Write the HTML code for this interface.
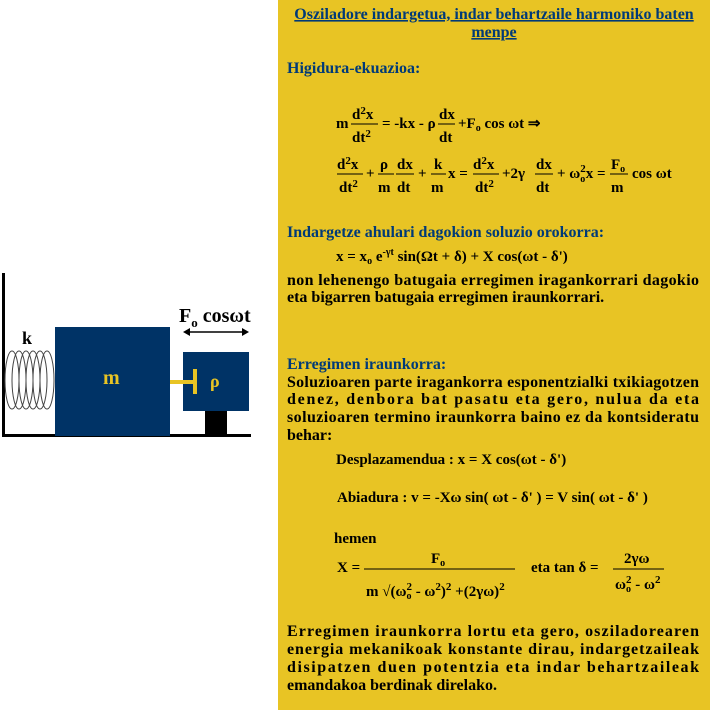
<!DOCTYPE html>
<html><head><meta charset="utf-8"><style>
body{margin:0;background:#fff;width:710px;height:710px;overflow:hidden}
svg{font-family:"Liberation Serif",serif;font-weight:bold}
</style></head><body>
<svg width="710" height="710" viewBox="0 0 710 710" xmlns="http://www.w3.org/2000/svg">
<rect x="278" y="0" width="432" height="710" fill="#E8C424"/>
<!-- diagram -->
<rect x="2" y="273" width="3" height="164" fill="#000"/>
<rect x="2" y="434" width="249" height="3" fill="#000"/>
<g fill="none" stroke="#444" stroke-width="1">
<ellipse cx="12" cy="380" rx="7" ry="29"/><ellipse cx="19" cy="380" rx="7" ry="29"/><ellipse cx="26" cy="380" rx="7" ry="29"/><ellipse cx="33" cy="380" rx="7" ry="29"/><ellipse cx="40" cy="380" rx="7" ry="29"/><ellipse cx="47" cy="380" rx="7" ry="29"/>
</g>
<rect x="55" y="327" width="115" height="109" fill="#003366"/>
<text x="103" y="384" fill="#E8C424" font-size="20">m</text>
<rect x="183" y="352" width="66" height="59" fill="#003366"/>
<rect x="205" y="411" width="22" height="24" fill="#000"/>
<rect x="170" y="380" width="26" height="4" fill="#E8C424"/>
<rect x="193" y="369" width="4" height="25" fill="#E8C424"/>
<text x="210" y="387" fill="#E8C424" font-size="18">ρ</text>
<text x="22" y="344" font-size="18">k</text>
<text x="179" y="322" font-size="20">F<tspan font-size="13" dy="5">o</tspan><tspan dy="-5"> cosωt</tspan></text>
<line x1="186" y1="332" x2="246" y2="332" stroke="#000" stroke-width="1.5"/>
<path d="M183 332l7-4v8z M249 332l-7-4v8z" fill="#000"/>
<!-- text -->
<g font-size="16">
<text x="494" y="19" text-anchor="middle" fill="#003A78" text-decoration="underline">Osziladore indargetua, indar behartzaile harmoniko baten</text>
<text x="494" y="37" text-anchor="middle" fill="#003A78" text-decoration="underline">menpe</text>
<text x="287" y="73" fill="#003A78">Higidura-ekuazioa:</text>
</g>
<g font-size="15" fill="#000">
<text x="336" y="128">m</text>
<text x="352" y="119">d<tspan font-size="11" dy="-5">2</tspan><tspan dy="5">x</tspan></text>
<line x1="351" y1="124" x2="378" y2="124" stroke="#000"/>
<text x="352" y="142">dt<tspan font-size="11" dy="-5">2</tspan></text>
<text x="382" y="128">= -kx - ρ</text>
<text x="439" y="119">dx</text><line x1="438" y1="124" x2="455" y2="124" stroke="#000"/><text x="439" y="142">dt</text>
<text x="458" y="128">+F<tspan font-size="10" dy="3">o</tspan><tspan dy="-3"> cos ωt  ⇒</tspan></text>

<text x="337" y="169">d<tspan font-size="11" dy="-5">2</tspan><tspan dy="5">x</tspan></text><line x1="337" y1="174" x2="363" y2="174" stroke="#000"/><text x="339" y="192">dt<tspan font-size="11" dy="-5">2</tspan></text>
<text x="366" y="178">+</text>
<text x="380" y="169">ρ</text><line x1="378" y1="174" x2="394" y2="174" stroke="#000"/><text x="378" y="192">m</text>
<text x="397" y="169">dx</text><line x1="396" y1="174" x2="414" y2="174" stroke="#000"/><text x="397" y="192">dt</text>
<text x="418" y="178">+</text>
<text x="434" y="169">k</text><line x1="431" y1="174" x2="446" y2="174" stroke="#000"/><text x="431" y="192">m</text>
<text x="448" y="178">x =</text>
<text x="473" y="169">d<tspan font-size="11" dy="-5">2</tspan><tspan dy="5">x</tspan></text><line x1="473" y1="174" x2="499" y2="174" stroke="#000"/><text x="475" y="192">dt<tspan font-size="11" dy="-5">2</tspan></text>
<text x="502" y="178">+2γ</text>
<text x="536" y="169">dx</text><line x1="535" y1="174" x2="553" y2="174" stroke="#000"/><text x="536" y="192">dt</text>
<text x="557" y="178">+ ω<tspan font-size="10" dy="4">o</tspan><tspan font-size="11" dx="-5" dy="-10">2</tspan><tspan dy="6">x =</tspan></text>
<text x="611" y="169">F<tspan font-size="10" dy="3">o</tspan></text><line x1="610" y1="174" x2="628" y2="174" stroke="#000"/><text x="611" y="192">m</text>
<text x="632" y="178">cos ωt</text>
</g>
<text x="287" y="237" font-size="16" fill="#003A78">Indargetze ahulari dagokion soluzio orokorra:</text>
<g font-size="15">
<text x="336" y="261">x = x<tspan font-size="10" dy="3">o</tspan><tspan dy="-3"> e</tspan><tspan font-size="10" dy="-6">-γt</tspan><tspan dy="6"> sin(Ωt + δ) + X cos(ωt - δ')</tspan></text>
<text x="336" y="464">Desplazamendua :  x = X cos(ωt - δ')</text>
<text x="337" y="502">Abiadura :  v = -Xω sin( ωt - δ' ) = V sin( ωt - δ' )</text>
<text x="334" y="543">hemen</text>
<text x="337" y="572">X =</text>
<text x="431" y="563">F<tspan font-size="10" dy="3">o</tspan></text>
<line x1="364" y1="569" x2="515" y2="569" stroke="#000"/>
<text x="366" y="596">m √(ω<tspan font-size="10" dy="3">o</tspan><tspan font-size="11" dx="-5" dy="-9">2</tspan><tspan dy="6"> - ω</tspan><tspan font-size="11" dy="-6">2</tspan><tspan dy="6">)</tspan><tspan font-size="11" dy="-6">2</tspan><tspan dy="6"> +(2γω)</tspan><tspan font-size="11" dy="-6">2</tspan></text>
<text x="531" y="572">eta   tan δ =</text>
<text x="624" y="563">2γω</text>
<line x1="613" y1="569" x2="664" y2="569" stroke="#000"/>
<text x="615" y="589">ω<tspan font-size="10" dy="3">o</tspan><tspan font-size="11" dx="-5" dy="-9">2</tspan><tspan dy="6"> - ω</tspan><tspan font-size="11" dy="-6">2</tspan></text>
</g>
<g font-size="16">
<text x="287" y="285" textLength="412" lengthAdjust="spacing">non lehenengo batugaia erregimen iragankorrari dagokio</text>
<text x="287" y="302">eta bigarren batugaia erregimen iraunkorrari.</text>
<text x="287" y="369" fill="#003A78">Erregimen iraunkorra:</text>
<text x="287" y="387" textLength="412" lengthAdjust="spacing">Soluzioaren parte iragankorra esponentzialki txikiagotzen</text>
<text x="287" y="404" textLength="412" lengthAdjust="spacing">denez, denbora bat pasatu eta gero, nulua da eta</text>
<text x="287" y="422" textLength="412" lengthAdjust="spacing">soluzioaren termino iraunkorra baino ez da kontsideratu</text>
<text x="287" y="440">behar:</text>
<text x="287" y="636" textLength="412" lengthAdjust="spacing">Erregimen iraunkorra lortu eta gero, osziladorearen</text>
<text x="287" y="654" textLength="412" lengthAdjust="spacing">energia mekanikoak konstante dirau, indargetzaileak</text>
<text x="287" y="672" textLength="412" lengthAdjust="spacing">disipatzen duen potentzia eta indar behartzaileak</text>
<text x="287" y="690">emandakoa berdinak direlako.</text>
</g>
</svg>
</body></html>
